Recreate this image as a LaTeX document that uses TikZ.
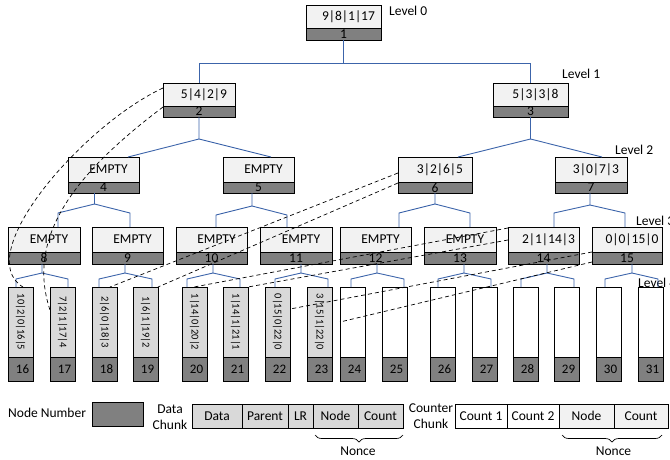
\documentclass[tikz,border=0pt]{standalone}
\usepackage{fontspec}
\setmainfont{Carlito}
\usetikzlibrary{calc,decorations.pathreplacing}
\definecolor{lightfill}{HTML}{F2F2F2}
\definecolor{leafgray}{HTML}{D9D9D9}
\definecolor{barfill}{HTML}{808080}
\definecolor{treeblue}{RGB}{60,100,170}
\newcommand\myfork[8]{%
  \draw[tree] ($(#1.south)+(#2,0)$) -- ++(0,#3) coordinate (j#1) -- ($(#4.north)+(#5,-#8)$) -- ++(0,#8);
  \draw[tree] (j#1) -- ($(#6.north)+(#7,-#8)$) -- ++(0,#8);}
\begin{document}
\begin{tikzpicture}[x=1pt,y=-1pt,font=\fontsize{13.5}{16}\selectfont,
  lt/.style={draw=black,line width=0.8pt,fill=lightfill,inner sep=0pt,outer sep=0pt,anchor=north west},
  bar/.style={draw=black,line width=0.8pt,fill=barfill,inner sep=0pt,outer sep=0pt,anchor=north west},
  leafbox/.style={draw=black,line width=0.8pt,inner sep=0pt,outer sep=0pt,anchor=north west,minimum width=25pt,minimum height=70pt},
  chunk/.style={draw=black,line width=0.7pt,inner sep=0pt,outer sep=0pt,anchor=north west,minimum height=24pt},
  tree/.style={draw=treeblue,line width=0.9pt},
  dl/.style={draw=black,line width=0.7pt,dash pattern=on 4pt off 3pt},
  lbl/.style={anchor=west,inner sep=0pt},
  bracestyle/.style={draw=black,line width=0.7pt,decorate,decoration={brace,mirror,amplitude=7pt}}]
\useasboundingbox (0,0) rectangle (670,459);
% internal nodes
\foreach \n/\x/\y/\w/\h/\d/\t in {1/306/5/75/23/12/{9|8|1|17},2/163/83/72/23/11/{5|4|2|9},3/493/83/75/23/11/{5|3|3|8},
  4/68/157/71/25/11/EMPTY,5/223/157/71/25/11/EMPTY,6/398/157/74/25/11/{3|2|6|5},7/555/157/72/25/11/{3|0|7|3},
  8/8/227/72/25/12/EMPTY,9/92/227/71/25/12/EMPTY,10/176/227/71/25/12/EMPTY,11/260/227/72/25/12/EMPTY,
  12/340/227/71/25/12/EMPTY,13/424/227/72/25/12/EMPTY,14/508/227/71/25/12/{2|1|14|3},15/592/227/70/25/12/{0|0|15|0}}
{
  \node[lt,minimum width=\w pt,minimum height=\h pt] (n\n) at (\x,\y) {\hspace*{10pt}\t};
  \node[bar,minimum width=\w pt,minimum height=\d pt] (b\n) at (n\n.south west) {\n};
}
% leaves
\foreach \n/\x/\t/\f in {16/8/{10|2|0|16|5}/leafgray,17/50/{7|2|1|17|4}/leafgray,18/92/{2|6|0|18|3}/leafgray,
  19/133/{1|6|1|19|2}/leafgray,20/182/{1|14|0|20|2}/leafgray,21/223/{1|14|1|21|1}/leafgray,
  22/265/{0|15|0|22|0}/leafgray,23/307/{3|15|1|22|0}/leafgray,24/340/{}/white,25/382/{}/white,
  26/430/{}/white,27/472/{}/white,28/513/{}/white,29/554/{}/white,30/596/{}/white,31/638/{}/white}
{
  \node[leafbox,fill=\f] (n\n) at (\x,287) {};
  \node[rotate=-90,inner sep=0pt,font=\fontsize{10.5}{12}\selectfont] (t\n) at (n\n.center) {\t};
  \node[bar,minimum width=25pt,minimum height=24pt,font=\fontsize{13}{15}\selectfont] (b\n) at (n\n.south west) {\hspace*{4pt}\n};
}
% level labels
\node[lbl] (lv0) at (389,11) {Level 0};
\node[lbl] (lv1) at (562,74) {Level 1};
\node[lbl] (lv2) at (615,150) {Level 2};
\node[lbl] (lv3) at (636,221) {Level 3};
\node[lbl] (lv4) at (638,283) {Level 4};
% tree connectors
\draw[tree] (b1.south) -- ++(0,23);
\draw[tree] (n2.north) -- ++(0,-20) -| (n3.north);
\myfork{b2}{0}{22}{n4}{24.5}{n5}{12.5}{0}
\myfork{b3}{0}{22}{n6}{23}{n7}{11}{0}
\myfork{b4}{-9}{11}{n8}{14}{n9}{2.5}{14}
\myfork{b5}{-6.5}{13}{n10}{4.5}{n11}{-9}{12}
\myfork{b6}{0}{11}{n12}{23.5}{n13}{10}{14}
\myfork{b7}{-1}{12}{n14}{10.5}{n15}{-2}{14}
\myfork{b8}{-2}{9}{n16}{-4.5}{n17}{5.5}{8}
\myfork{b9}{-2.5}{9}{n18}{-5.5}{n19}{6.5}{8}
\myfork{b10}{1.5}{9}{n20}{-7.5}{n21}{4.5}{8}
\myfork{b11}{5}{9}{n22}{-2.5}{n23}{8.5}{8}
\myfork{b12}{1.5}{9}{n24}{-1.5}{n25}{9.5}{8}
\myfork{b13}{4}{9}{n26}{-4.5}{n27}{6.5}{8}
\myfork{b14}{3.5}{9}{n28}{-4.5}{n29}{7.5}{8}
\myfork{b15}{5}{9}{n30}{-3.5}{n31}{7.5}{8}
% parent pointers
\draw[dl] ($(n2.north west)+(0,5)$) .. controls (83,125) and (-30,255) .. ($(n16.north west)+(15,0)$);
\draw[dl] ($(b2.north west)+(0,1)$) .. controls (78,171) and (25,235) .. ($(n17.north west)+(0,23)$);
\draw[dl] ($(n6.north west)+(0,16)$) -- ($(n18.north east)+(-7,0)$);
\draw[dl] ($(b6.north west)+(0,1)$) -- (n19.north east);
\draw[dl] ($(n14.north west)+(0,1)$) -- ($(n20.north west)+(12,0)$);
\draw[dl] ($(n14.north west)+(0,13)$) -- (n21.north east);
\draw[dl] (b15.north west) -- ($(n22.north east)+(0,22)$);
\draw[dl] ($(b15.north west)+(0,10)$) -- ($(n24.north west)+(0,35)$);
% legend
\node[lbl] (nnl) at (8,413) {Node Number};
\node[chunk,fill=barfill,minimum width=51pt] (nnb) at (92,402) {};
\node[align=center,inner sep=0pt] (dcl) at (170,417) {Data\\Chunk};
\node[chunk,fill=leafgray,minimum width=50pt] (dc1) at (192,404) {Data};
\node[chunk,fill=leafgray,minimum width=46pt] (dc2) at (dc1.north east) {Parent};
\node[chunk,fill=leafgray,minimum width=25pt] (dc3) at (dc2.north east) {LR};
\node[chunk,fill=leafgray,minimum width=45pt] (dc4) at (dc3.north east) {Node};
\node[chunk,fill=leafgray,minimum width=45pt] (dc5) at (dc4.north east) {Count};
\draw[bracestyle] ($(dc4.south west)+(2,7)$) -- ($(dc5.south east)+(0,7)$);
\node[inner sep=0pt] (nonce1) at ($(dc4.south west)!0.5!(dc5.south east)+(0,23)$) {Nonce};
\node[align=center,inner sep=0pt] (ccl) at (431,416) {Counter\\Chunk};
\node[chunk,fill=white,minimum width=52pt] (cc1) at (455,404) {Count 1};
\node[chunk,fill=white,minimum width=52pt] (cc2) at (cc1.north east) {Count 2};
\node[chunk,fill=lightfill,minimum width=55pt] (cc3) at (cc2.north east) {Node};
\node[chunk,fill=lightfill,minimum width=54pt] (cc4) at (cc3.north east) {Count};
\draw[bracestyle] ($(cc3.south west)+(3,7)$) -- ($(cc4.south east)+(-6,7)$);
\node[inner sep=0pt] (nonce2) at ($(cc3.south west)!0.5!(cc4.south east)+(0,23)$) {Nonce};
\end{tikzpicture}
\end{document}
